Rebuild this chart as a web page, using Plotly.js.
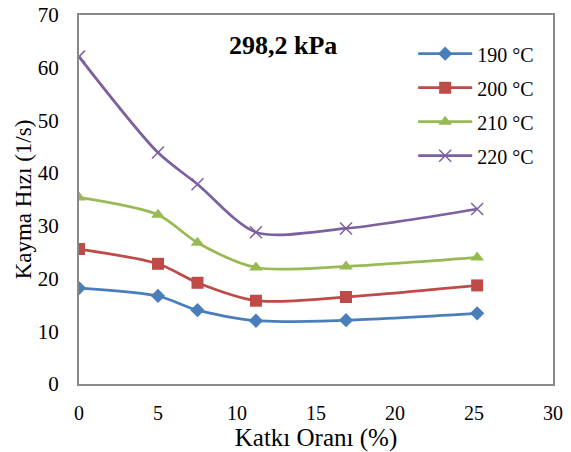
<!DOCTYPE html>
<html><head><meta charset="utf-8">
<script src="https://cdn.plot.ly/plotly-3.0.1.min.js"></script>
<style>body{margin:0;background:#fff}#chart{width:571px;height:452px}</style>
</head><body><div id="chart"></div>
<script>
const katki = [0, 5, 7.5, 11.2, 16.9, 25.2];
const s190 = [18.2, 16.7, 14.0, 12.0, 12.1, 13.4];
const s200 = [25.6, 22.8, 19.2, 15.8, 16.5, 18.7];
const s210 = [35.4, 32.1, 26.8, 22.1, 22.3, 24.0];
const s220 = [62.1, 43.9, 37.9, 28.8, 29.5, 33.2];
const names = ['190 °C', '200 °C', '210 °C', '220 °C'];
const xTicks = [0, 5, 10, 15, 20, 25, 30];
const yTicks = [0, 10, 20, 30, 40, 50, 60, 70];

const colors = ['#4A7EBB', '#BE4B48', '#98B954', '#7D60A0'];
const symbols = ['diamond', 'square', 'triangle-up', 'x-thin-open'];
const sizes = [11, 12, 12, 12];
const series = [s190, s200, s210, s220];

const traces = series.map((ys, i) => ({
  x: katki, y: ys, name: names[i], type: 'scatter', mode: 'lines+markers',
  line: {color: colors[i], width: 2.75, shape: 'spline', smoothing: 0.8},
  marker: {symbol: symbols[i], size: sizes[i], color: colors[i],
           line: {color: colors[i], width: i === 3 ? 1.5 : 0}},
  legendgroup: 'g' + i
}));

const font = '"Liberation Serif", "Times New Roman", serif';
const layout = {
  width: 571, height: 452,
  margin: {l: 79, r: 18, t: 15, b: 68},
  paper_bgcolor: '#fff', plot_bgcolor: '#fff',
  font: {family: font, size: 20, color: '#000'},
  showlegend: true,
  legend: {x: 0.705, y: 0.948, xanchor: 'left', yanchor: 'top',
           bgcolor: 'rgba(0,0,0,0)', font: {family: font, size: 20},
           itemwidth: 54, traceorder: 'grouped', tracegroupgap: 5},
  xaxis: {range: [0, 30], tickvals: xTicks, ticktext: xTicks.map(String),
          showgrid: false, zeroline: false, showline: true, mirror: true,
          linecolor: '#898989', linewidth: 2, ticks: '', ticklabelstandoff: 10,
          tickfont: {family: font, size: 20},
          title: {text: 'Katkı Oranı (%)', font: {family: font, size: 25}, standoff: 5}},
  yaxis: {range: [0, 70], tickvals: yTicks, ticktext: yTicks.map(String),
          showgrid: false, zeroline: false, showline: true, mirror: true,
          linecolor: '#898989', linewidth: 2, ticks: '', ticklabelstandoff: 14,
          tickfont: {family: font, size: 21},
          title: {text: 'Kayma Hızı (1/s)', font: {family: font, size: 23}, standoff: 0}},
  annotations: [{text: '<b>298,2 kPa</b>', xref: 'paper', yref: 'paper',
                 x: 0.43, y: 0.916, xanchor: 'center', yanchor: 'middle', showarrow: false,
                 font: {family: font, size: 26, color: '#000'}}]
};
Plotly.newPlot('chart', traces, layout, {displayModeBar: false});
</script></body></html>
